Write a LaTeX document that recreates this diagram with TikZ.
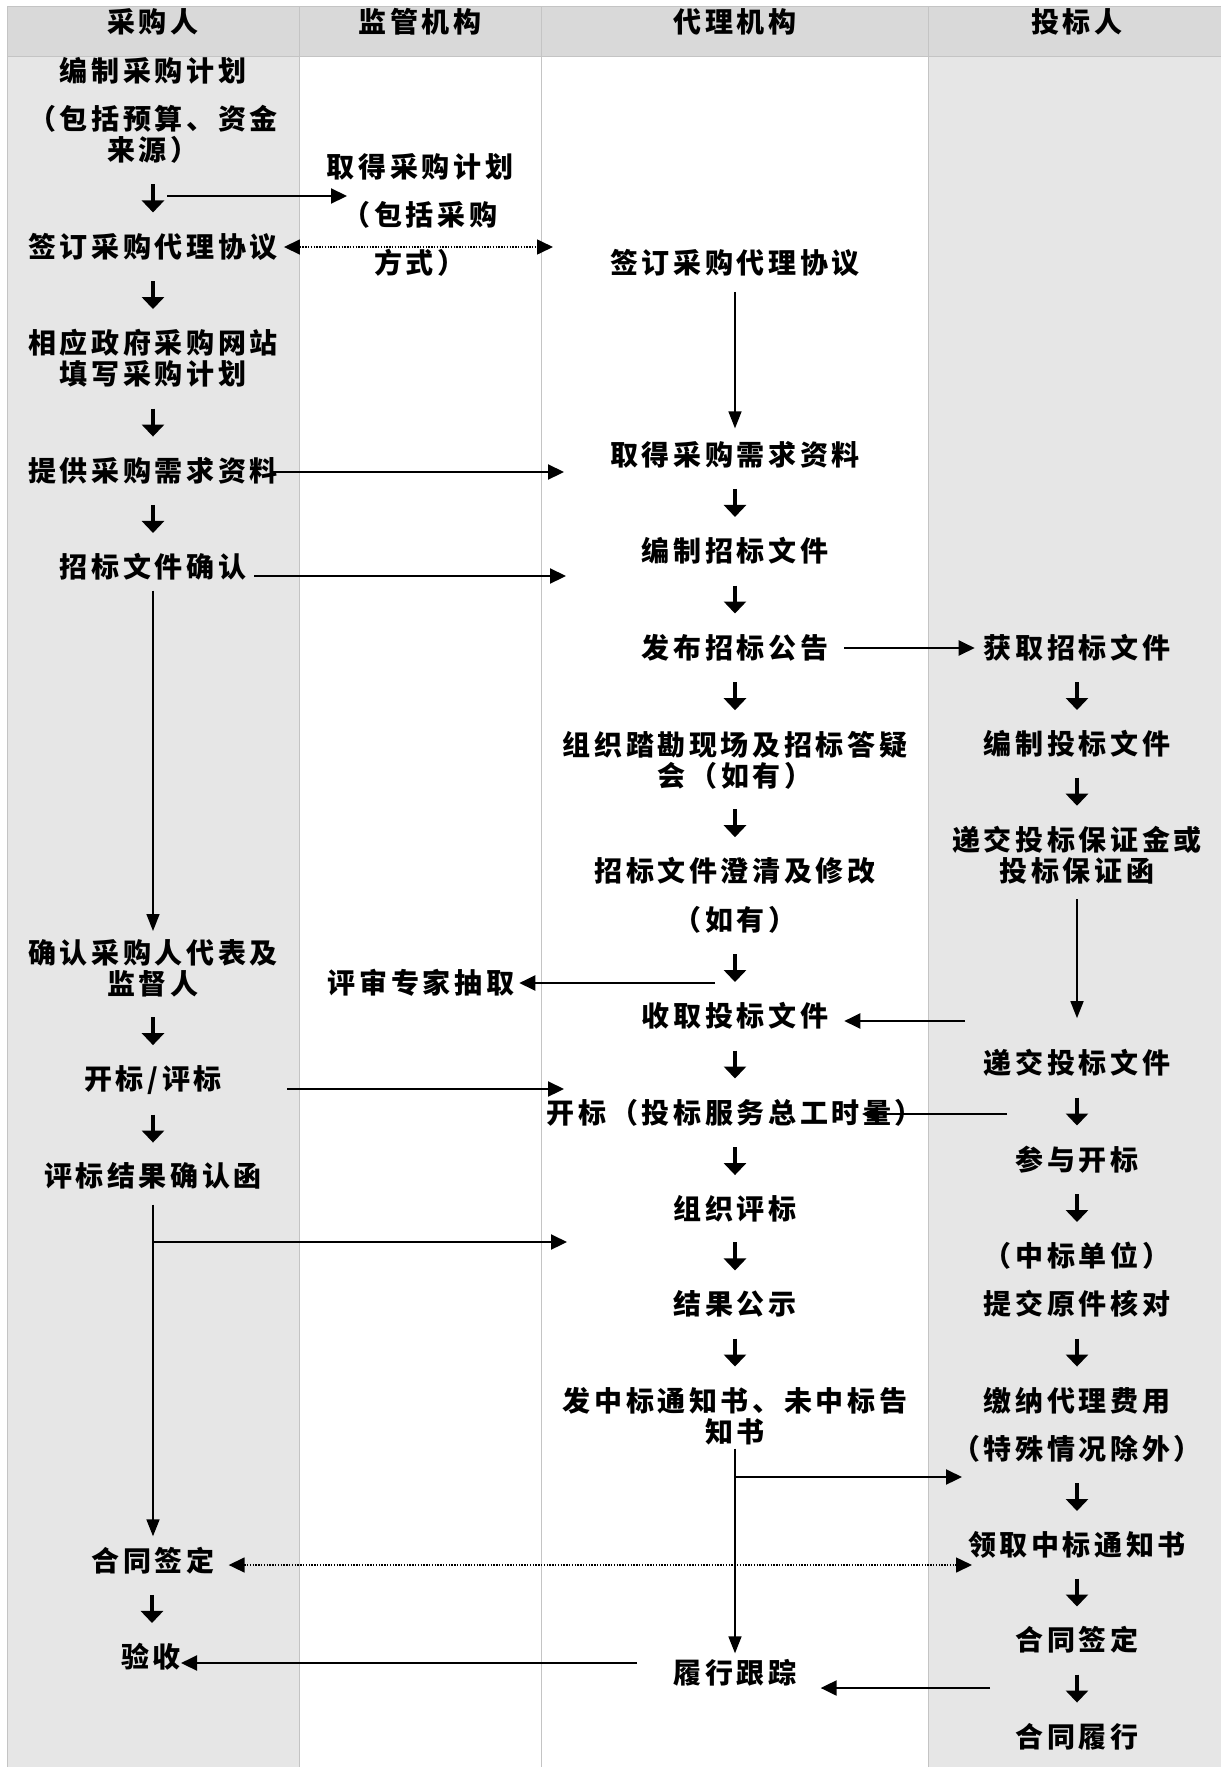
\documentclass[tikz,border=0pt]{standalone}
\usepackage{fontspec}
\usetikzlibrary{arrows.meta,calc}
\newfontfamily\cjk[LetterSpace=13]{Noto Sans CJK SC}
\definecolor{hdr}{HTML}{D9D9D9}
\definecolor{lane}{HTML}{E6E6E6}
\definecolor{grid}{HTML}{C4C4C4}
\tikzset{
  txt/.style={font=\cjk\bfseries\fontsize{28}{31}\selectfont, align=center, inner sep=0pt, text=black},
  sarr/.style={line width=4.5pt, -{Triangle[length=12pt,width=22pt]}},
  conn/.style={line width=1.6pt, -{Triangle[length=17pt,width=13pt]}},
  harr/.style={line width=2.2pt, -{Triangle[length=16pt,width=15pt]}},
  dotarr/.style={line width=1.6pt, dash pattern=on 1.4pt off 1.4pt, {Triangle[length=16pt,width=15pt]}-{Triangle[length=16pt,width=15pt]}},
  lanefill/.style={fill=lane},
  gridline/.style={draw=grid, line width=1pt}
}
\newcommand\dnarrow[2]{\draw[sarr] ($(#1.south)!0.5!(#2.north)+(0,-14)$) -- ++(0,28);}
\begin{document}
\begin{tikzpicture}[x=1pt,y=-1pt]
\useasboundingbox (0,0) rectangle (1221,1767);
\fill[white] (0,0) rectangle (1221,1767);
% lanes
\fill[hdr] (7,6) rectangle (1221,56);
\fill[lanefill] (7,56) rectangle (299,1767);
\fill[lanefill] (928,56) rectangle (1221,1767);
\draw[gridline] (7,6) -- (1221,6);
\draw[gridline] (7,56) -- (1221,56);
\foreach \xx in {7,299,541,928} {\draw[gridline] (\xx,6) -- (\xx,1767);}
% headers
\node[txt] (h1) at (153,22) {采购人};
\node[txt] (h2) at (420,22) {监管机构};
\node[txt] (h3) at (735,22) {代理机构};
\node[txt] (h4) at (1077,22) {投标人};
% column 1
\node[txt] (c1a) at (153,110.5) {编制采购计划\\[17pt]（包括预算、资金\\来源）};
\node[txt] (c1b) at (153,247) {签订采购代理协议};
\node[txt] (c1c) at (153,358.5) {相应政府采购网站\\填写采购计划};
\node[txt] (c1d) at (153,471) {提供采购需求资料};
\node[txt] (c1e) at (153,567) {招标文件确认};
\node[txt] (c1f) at (153,968) {确认采购人代表及\\监督人};
\node[txt] (c1g) at (153,1080) {开标/评标};
\node[txt] (c1h) at (153,1176) {评标结果确认函};
\node[txt] (c1i) at (153,1561) {合同签定};
\node[txt] (c1j) at (151,1657) {验收};
% column 2
\node[txt] (c2a) at (420,215) {取得采购计划\\[17pt]（包括采购\\[17pt]方式）};
\node[txt] (c2b) at (421,983) {评审专家抽取};
% column 3
\node[txt] (c3a) at (735,263) {签订采购代理协议};
\node[txt] (c3b) at (735,455) {取得采购需求资料};
\node[txt] (c3c) at (735,551) {编制招标文件};
\node[txt] (c3d) at (735,648) {发布招标公告};
\node[txt] (c3e) at (735,760) {组织踏勘现场及招标答疑\\会（如有）};
\node[txt] (c3f) at (735,895.5) {招标文件澄清及修改\\[18pt]（如有）};
\node[txt] (c3g) at (735,1016) {收取投标文件};
\node[txt] (c3h) at (735,1113) {开标（投标服务总工时量）};
\node[txt] (c3i) at (735,1209) {组织评标};
\node[txt] (c3j) at (735,1304) {结果公示};
\node[txt] (c3k) at (735,1416.5) {发中标通知书、未中标告\\知书};
\node[txt] (c3l) at (735,1673) {履行跟踪};
% column 4
\node[txt] (c4a) at (1077,648) {获取招标文件};
\node[txt] (c4b) at (1077,744) {编制投标文件};
\node[txt] (c4c) at (1077,855) {递交投标保证金或\\投标保证函};
\node[txt] (c4d) at (1077,1063) {递交投标文件};
\node[txt] (c4e) at (1077,1160) {参与开标};
\node[txt] (c4f) at (1077,1280) {（中标单位）\\[17pt]提交原件核对};
\node[txt] (c4g) at (1077,1425) {缴纳代理费用\\[17pt]（特殊情况除外）};
\node[txt] (c4h) at (1077,1545) {领取中标通知书};
\node[txt] (c4i) at (1077,1640) {合同签定};
\node[txt] (c4j) at (1077,1737) {合同履行};
% small down arrows
\dnarrow{c1a}{c1b}\dnarrow{c1b}{c1c}\dnarrow{c1c}{c1d}\dnarrow{c1d}{c1e}
\dnarrow{c1f}{c1g}\dnarrow{c1g}{c1h}\dnarrow{c1i}{c1j}
\dnarrow{c3b}{c3c}\dnarrow{c3c}{c3d}\dnarrow{c3d}{c3e}\dnarrow{c3e}{c3f}
\dnarrow{c3f}{c3g}\dnarrow{c3g}{c3h}\dnarrow{c3h}{c3i}\dnarrow{c3i}{c3j}\dnarrow{c3j}{c3k}
\dnarrow{c4a}{c4b}\dnarrow{c4b}{c4c}\dnarrow{c4d}{c4e}\dnarrow{c4e}{c4f}
\dnarrow{c4f}{c4g}\dnarrow{c4g}{c4h}\dnarrow{c4h}{c4i}\dnarrow{c4i}{c4j}
% long connectors
\draw[conn, shorten <=10pt, shorten >=8pt] (c1e.south) -- (c1f.north);
\draw[conn, shorten <=15pt, shorten >=13pt] (c3a.south) -- (c3b.north);
\draw[conn, shorten <=15pt, shorten >=31pt] (c4c.south) -- (c4d.north);
\draw[conn, shorten <=15pt, shorten >=11pt] (c1h.south) -- (c1i.north);
\draw[conn, shorten <=3pt, shorten >=6pt] (c3k.south) -- (c3l.north);
% free ends
\coordinate (h1s) at (167,196);  \coordinate (h1e) at (347,196);
\coordinate (h2e) at (553,247);
\coordinate (h3s) at (270,472);  \coordinate (h3e) at (564,472);
\coordinate (h4s) at (254,576);  \coordinate (h4e) at (566,576);
\coordinate (h6s) at (715,983);
\coordinate (h7s) at (965,1021);
\coordinate (h8s) at (287,1089); \coordinate (h8e) at (564,1089);
\coordinate (h9s) at (1007,1114); \coordinate (h9e) at (862,1114);
\coordinate (b10) at (153,1242); \coordinate (h10e) at (567,1242);
\coordinate (b11) at (735,1477); \coordinate (h11e) at (962,1477);
\coordinate (h12e) at (972,1565);
\coordinate (h13s) at (637,1663);
\coordinate (h14s) at (990,1688);
% horizontal arrows
\draw[harr] (h1s) -- (h1e);
\draw[dotarr] ($(c1b.east)+(6,0)$) -- (h2e);
\draw[harr] (h3s) -- (h3e);
\draw[harr] (h4s) -- (h4e);
\draw[harr, shorten <=16pt, shorten >=9pt] (c3d.east) -- (c4a.west);
\draw[harr, shorten >=5pt] (h6s) -- (h6s -| c2b.east);
\draw[harr, shorten >=16pt] (h7s) -- (h7s -| c3g.east);
\draw[harr] (h8s) -- (h8e);
\draw[harr] (h9s) -- (h9e);
\draw[harr] (b10) -- (h10e);
\draw[harr] (b11) -- (h11e);
\draw[dotarr] ($(c1i.east)+(14,4)$) -- (h12e);
\draw[harr] (h13s) -- (h13s -| c1j.east);
\draw[harr, shorten >=24pt] (h14s) -- (h14s -| c3l.east);
\end{tikzpicture}
\end{document}
